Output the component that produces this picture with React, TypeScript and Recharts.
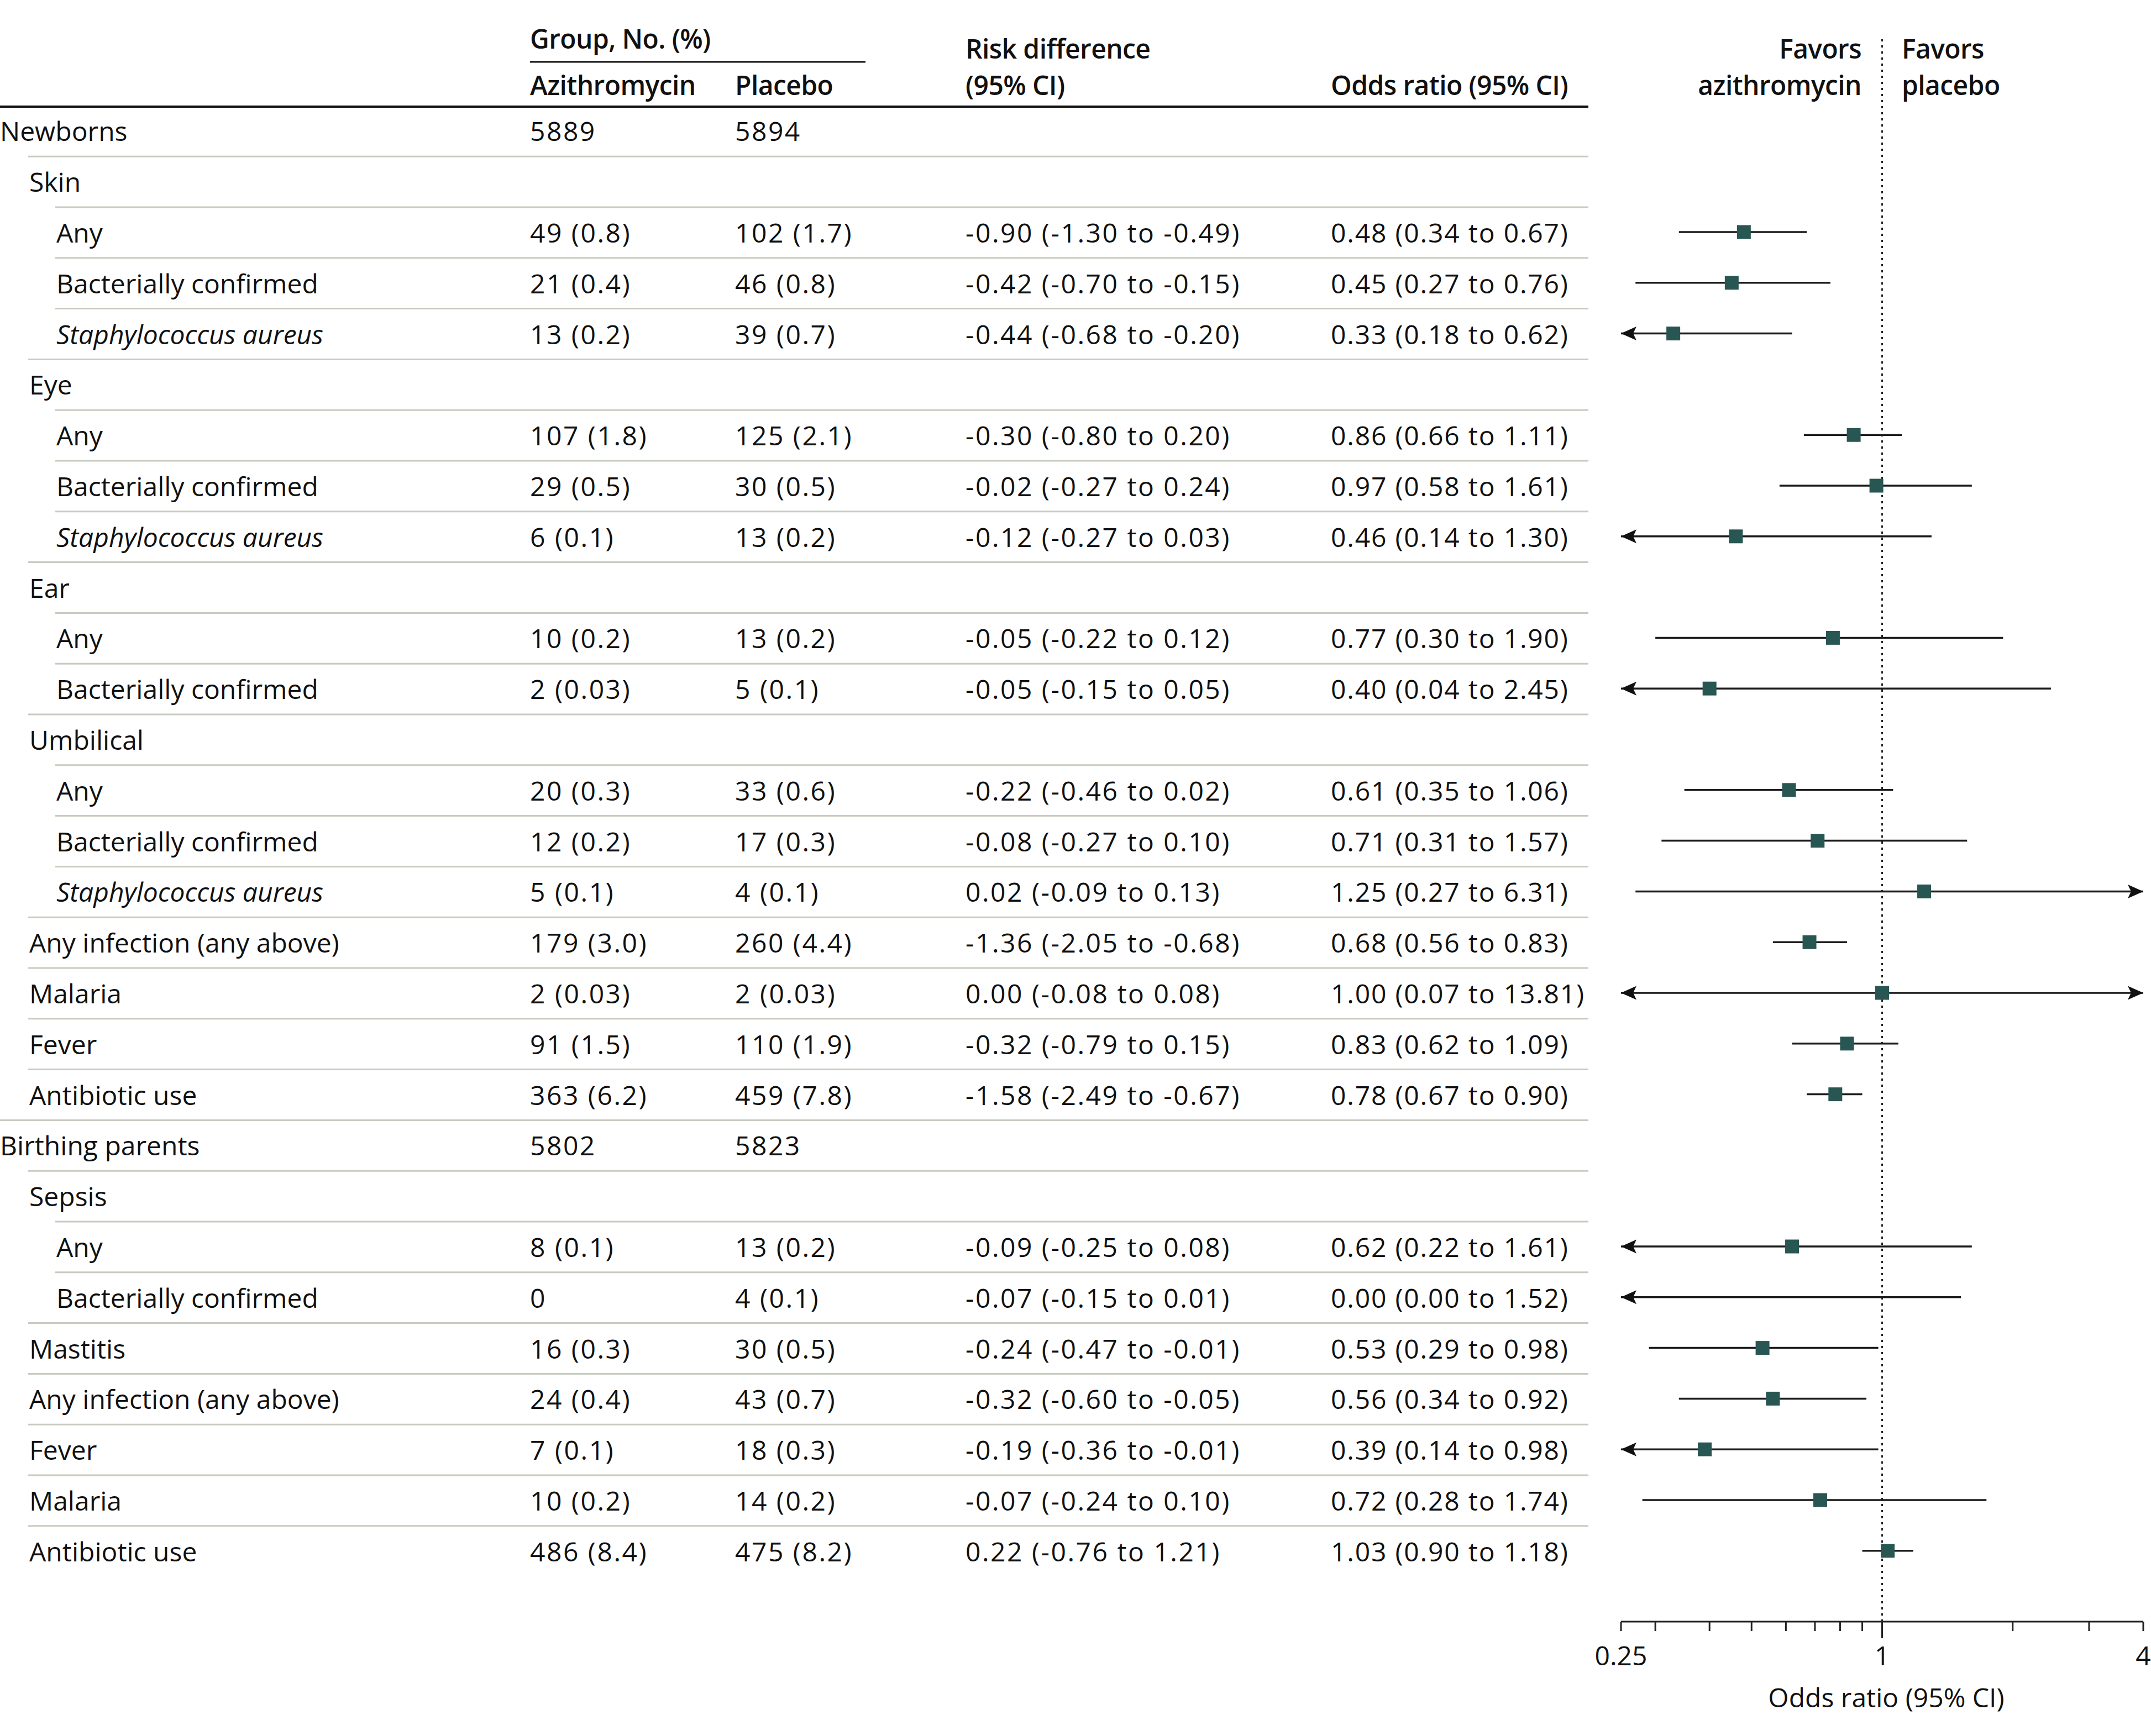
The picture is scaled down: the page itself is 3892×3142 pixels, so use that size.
import React from 'react'
import { ScatterChart, Scatter, XAxis, YAxis, ReferenceLine, Customized } from 'recharts'

// Table rows, top to bottom
const rowLabels = [
  'Newborns', 'Skin', 'Any', 'Bacterially confirmed', 'Staphylococcus aureus',
  'Eye', 'Any', 'Bacterially confirmed', 'Staphylococcus aureus',
  'Ear', 'Any', 'Bacterially confirmed',
  'Umbilical', 'Any', 'Bacterially confirmed', 'Staphylococcus aureus',
  'Any infection (any above)', 'Malaria', 'Fever', 'Antibiotic use',
  'Birthing parents', 'Sepsis', 'Any', 'Bacterially confirmed',
  'Mastitis', 'Any infection (any above)', 'Fever', 'Malaria', 'Antibiotic use',
]
const rowLevels = [0, 1, 2, 2, 2, 1, 2, 2, 2, 1, 2, 2, 1, 2, 2, 2, 1, 1, 1, 1, 0, 1, 2, 2, 1, 1, 1, 1, 1]
const italicRows = [4, 8, 15]

const azithroCounts = [
  '5889', '', '49 (0.8)', '21 (0.4)', '13 (0.2)',
  '', '107 (1.8)', '29 (0.5)', '6 (0.1)',
  '', '10 (0.2)', '2 (0.03)',
  '', '20 (0.3)', '12 (0.2)', '5 (0.1)',
  '179 (3.0)', '2 (0.03)', '91 (1.5)', '363 (6.2)',
  '5802', '', '8 (0.1)', '0',
  '16 (0.3)', '24 (0.4)', '7 (0.1)', '10 (0.2)', '486 (8.4)',
]
const placeboCounts = [
  '5894', '', '102 (1.7)', '46 (0.8)', '39 (0.7)',
  '', '125 (2.1)', '30 (0.5)', '13 (0.2)',
  '', '13 (0.2)', '5 (0.1)',
  '', '33 (0.6)', '17 (0.3)', '4 (0.1)',
  '260 (4.4)', '2 (0.03)', '110 (1.9)', '459 (7.8)',
  '5823', '', '13 (0.2)', '4 (0.1)',
  '30 (0.5)', '43 (0.7)', '18 (0.3)', '14 (0.2)', '475 (8.2)',
]

const rdPoint = [null, null, -0.90, -0.42, -0.44, null, -0.30, -0.02, -0.12, null, -0.05, -0.05, null, -0.22, -0.08, 0.02, -1.36, 0.00, -0.32, -1.58, null, null, -0.09, -0.07, -0.24, -0.32, -0.19, -0.07, 0.22]
const rdLow = [null, null, -1.30, -0.70, -0.68, null, -0.80, -0.27, -0.27, null, -0.22, -0.15, null, -0.46, -0.27, -0.09, -2.05, -0.08, -0.79, -2.49, null, null, -0.25, -0.15, -0.47, -0.60, -0.36, -0.24, -0.76]
const rdHigh = [null, null, -0.49, -0.15, -0.20, null, 0.20, 0.24, 0.03, null, 0.12, 0.05, null, 0.02, 0.10, 0.13, -0.68, 0.08, 0.15, -0.67, null, null, 0.08, 0.01, -0.01, -0.05, -0.01, 0.10, 1.21]

const orPoint = [null, null, 0.48, 0.45, 0.33, null, 0.86, 0.97, 0.46, null, 0.77, 0.40, null, 0.61, 0.71, 1.25, 0.68, 1.00, 0.83, 0.78, null, null, 0.62, 0.00, 0.53, 0.56, 0.39, 0.72, 1.03]
const orLow = [null, null, 0.34, 0.27, 0.18, null, 0.66, 0.58, 0.14, null, 0.30, 0.04, null, 0.35, 0.31, 0.27, 0.56, 0.07, 0.62, 0.67, null, null, 0.22, 0.00, 0.29, 0.34, 0.14, 0.28, 0.90]
const orHigh = [null, null, 0.67, 0.76, 0.62, null, 1.11, 1.61, 1.30, null, 1.90, 2.45, null, 1.06, 1.57, 6.31, 0.83, 13.81, 1.09, 0.90, null, null, 1.61, 1.52, 0.98, 0.92, 0.98, 1.74, 1.18]

const axisTicks = [0.25, 0.3, 0.4, 0.5, 0.6, 0.7, 0.8, 0.9, 1, 2, 3, 4]
const axisLabels = [0.25, 1, 4]
const axisMin = 0.25
const axisMax = 4

// layout
const W = 3892
const H = 3142
const PLOT_TOP = 67
const AXIS_Y = 2935
const PLOT_LEFT = 2933
const PLOT_RIGHT = 3878
const ROW0 = 236.4
const ROW_STEP = 91.8
const LABEL_X = [0, 53, 102]
const SEP_X = [0, 51, 100]
const AZ_X = 959
const PL_X = 1330
const RD_X = 1747
const OR_X = 2408
const TABLE_END = 2874
const FONT = 48
const INK = '#111'
const NUM_SPACING = 2.5
const HEAD_SPACING = -0.6

const yMin = -(ROW0 - PLOT_TOP) / ROW_STEP
const yMax = yMin + (AXIS_Y - PLOT_TOP) / ROW_STEP
const rowIdx = rowLabels.map((_, i) => i)

const fmt = (v: number) => v.toFixed(2)

const squares = rowIdx
  .filter((i) => orPoint[i] !== null && (orPoint[i] as number) >= axisMin)
  .map((i) => ({ x: orPoint[i] as number, y: i }))

const ciRows = rowIdx
  .filter((i) => orPoint[i] !== null)
  .map((i) => ({
    y: i,
    lo: Math.max(orLow[i] as number, axisMin),
    hi: Math.min(orHigh[i] as number, axisMax),
  }))

const arrows = [
  ...rowIdx.filter((i) => orLow[i] !== null && (orLow[i] as number) < axisMin).map((i) => ({ x: axisMin, y: i, dir: -1 })),
  ...rowIdx.filter((i) => orHigh[i] !== null && (orHigh[i] as number) > axisMax).map((i) => ({ x: axisMax, y: i, dir: 1 })),
]

const RowTick = (props: any) => {
  const { y, payload } = props
  const i = payload.value as number
  const lvl = rowLevels[i]
  const base = y + 19
  const hasStats = rdPoint[i] !== null
  return (
    <g>
      {i > 0 && (
        <line x1={SEP_X[lvl]} x2={TABLE_END} y1={y - 45} y2={y - 45} stroke="#c6ccbe" strokeWidth={3} />
      )}
      <text x={LABEL_X[lvl]} y={base} fill={INK} fontSize={FONT} fontStyle={italicRows.includes(i) ? 'italic' : 'normal'}>
        {rowLabels[i]}
      </text>
      <text x={AZ_X} y={base} fill={INK} fontSize={FONT} letterSpacing={NUM_SPACING}>{azithroCounts[i]}</text>
      <text x={PL_X} y={base} fill={INK} fontSize={FONT} letterSpacing={NUM_SPACING}>{placeboCounts[i]}</text>
      {hasStats && (
        <text x={RD_X} y={base} fill={INK} fontSize={FONT} letterSpacing={NUM_SPACING}>
          {`${fmt(rdPoint[i] as number)} (${fmt(rdLow[i] as number)} to ${fmt(rdHigh[i] as number)})`}
        </text>
      )}
      {hasStats && (
        <text x={OR_X} y={base} fill={INK} fontSize={FONT} letterSpacing={1.8}>
          {`${fmt(orPoint[i] as number)} (${fmt(orLow[i] as number)} to ${fmt(orHigh[i] as number)})`}
        </text>
      )}
    </g>
  )
}

const OddsTick = (props: any) => {
  const { x, y, payload } = props
  const v = payload.value as number
  return (
    <g>
      <line x1={x} x2={x} y1={y} y2={y + (v === 1 ? 30 : 17)} stroke="#222" strokeWidth={3} />
      {axisLabels.includes(v) && (
        <text x={x} y={y + 79} textAnchor="middle" fill={INK} fontSize={FONT}>{v}</text>
      )}
    </g>
  )
}

const Square = (props: any) => {
  const { cx, cy } = props
  return <rect x={cx - 12.5} y={cy - 12.5} width={25} height={25} fill="#285653" />
}

const Arrow = (props: any) => {
  const { cx, cy, payload } = props
  const s = -payload.dir
  return (
    <path
      d={`M${cx},${cy} L${cx + s * 28},${cy - 12.5} L${cx + s * 22},${cy} L${cx + s * 28},${cy + 12.5} Z`}
      fill="#111"
    />
  )
}

const Header = () => (
  <g fill={INK} fontSize={FONT}>
    <g fontWeight={600} letterSpacing={HEAD_SPACING}>
      <text x={AZ_X} y={88}>Group, No. (%)</text>
      <text x={AZ_X} y={172}>Azithromycin</text>
      <text x={PL_X} y={172}>Placebo</text>
      <text x={RD_X} y={106}>Risk difference</text>
      <text x={RD_X} y={172}>(95% CI)</text>
      <text x={OR_X} y={172}>Odds ratio (95% CI)</text>
      <text x={3368} y={106} textAnchor="end">Favors</text>
      <text x={3368} y={172} textAnchor="end">azithromycin</text>
      <text x={3441} y={106}>Favors</text>
      <text x={3441} y={172}>placebo</text>
    </g>
    <line x1={AZ_X} x2={1566} y1={112} y2={112} stroke="#111" strokeWidth={3} />
    <line x1={0} x2={TABLE_END} y1={193} y2={193} stroke="#111" strokeWidth={4} />
    <text x={3413} y={3090} textAnchor="middle">Odds ratio (95% CI)</text>
  </g>
)

const App: React.FC = () => {
  return (
    <div style={{ position: 'absolute', left: 0, top: 0, width: W, height: H, background: '#fff', fontFamily: "'Open Sans', sans-serif" }}>
      <ScatterChart width={W} height={H} margin={{ top: PLOT_TOP, right: W - PLOT_RIGHT, bottom: H - AXIS_Y - 100, left: 0 }}>
        <XAxis
          type="number"
          dataKey="x"
          scale="log"
          domain={[axisMin, axisMax]}
          allowDataOverflow
          ticks={axisTicks}
          interval={0}
          height={100}
          tickLine={false}
          tickSize={0}
          tickMargin={0}
          axisLine={{ stroke: '#222', strokeWidth: 3 }}
          tick={<OddsTick />}
        />
        <YAxis
          type="number"
          dataKey="y"
          domain={[yMin, yMax]}
          allowDataOverflow
          reversed
          ticks={rowIdx}
          interval={0}
          width={PLOT_LEFT}
          axisLine={false}
          tickLine={false}
          tick={<RowTick />}
        />
        <ReferenceLine x={1} stroke="#222" strokeWidth={3} strokeDasharray="4 7" ifOverflow="visible" />
        {ciRows.map((r) => (
          <ReferenceLine
            key={`ci-${r.y}`}
            segment={[{ x: r.lo, y: r.y }, { x: r.hi, y: r.y }]}
            stroke="#1c1c1c"
            strokeWidth={3.5}
            ifOverflow="visible"
          />
        ))}
        <Scatter data={arrows} shape={<Arrow />} isAnimationActive={false} />
        <Scatter data={squares} shape={<Square />} isAnimationActive={false} />
        <Customized component={Header} />
      </ScatterChart>
    </div>
  )
}

export default App
